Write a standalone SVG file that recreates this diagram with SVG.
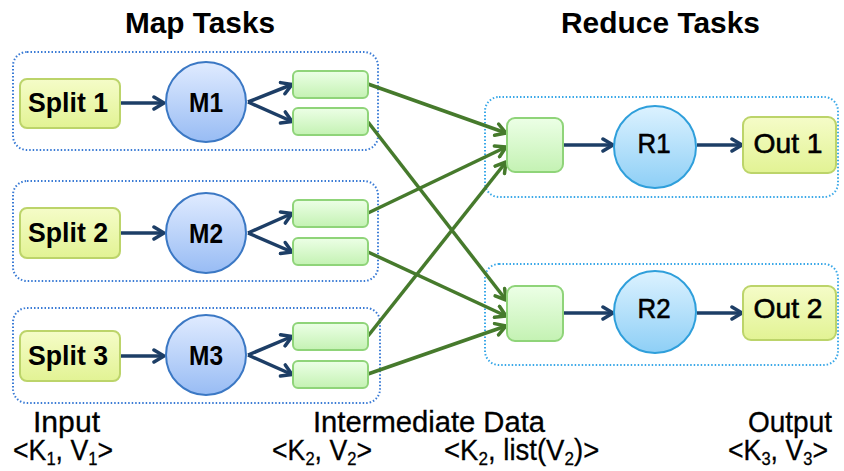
<svg xmlns="http://www.w3.org/2000/svg" width="844" height="471" viewBox="0 0 844 471">
<defs>
<linearGradient id="gSplit" x1="0" y1="0" x2="0" y2="1"><stop offset="0" stop-color="#f5fcc8"/><stop offset="1" stop-color="#e2f394"/></linearGradient>
<linearGradient id="gInter" x1="0" y1="0" x2="0" y2="1"><stop offset="0" stop-color="#ecffe6"/><stop offset="1" stop-color="#c4f2b3"/></linearGradient>
<linearGradient id="gM" x1="0" y1="0" x2="0" y2="1"><stop offset="0" stop-color="#e0ebff"/><stop offset="1" stop-color="#98bcf4"/></linearGradient>
<linearGradient id="gR" x1="0" y1="0" x2="0" y2="1"><stop offset="0" stop-color="#dcf2ff"/><stop offset="1" stop-color="#8ecff6"/></linearGradient>
<marker id="aBlue" viewBox="0 0 14 16" refX="12" refY="8" markerWidth="14" markerHeight="16" markerUnits="userSpaceOnUse" orient="auto">
<path d="M2,2 L12,8 L2,14" fill="none" stroke="#1d3e66" stroke-width="3.5" stroke-linecap="round" stroke-linejoin="round"/>
</marker>
<marker id="aGreen" viewBox="0 0 14 16" refX="12" refY="8" markerWidth="14" markerHeight="16" markerUnits="userSpaceOnUse" orient="auto">
<path d="M2,2 L12,8 L2,14" fill="none" stroke="#467a2c" stroke-width="3.5" stroke-linecap="round" stroke-linejoin="round"/>
</marker>
</defs>
<style>
.mapbox{fill:none;stroke:#3a7bd5;stroke-width:2;stroke-dasharray:1.5 2}
.redbox{fill:none;stroke:#3aa8e8;stroke-width:2;stroke-dasharray:1.5 2}
.split{fill:url(#gSplit);stroke:#bcd46a;stroke-width:2}
.inter{fill:url(#gInter);stroke:#8fd479;stroke-width:2}
.mc{fill:url(#gM);stroke:#3b78c4;stroke-width:2}
.rc{fill:url(#gR);stroke:#2f9fdb;stroke-width:2}
.blue{fill:none;stroke:#1d3e66;stroke-width:3.5;marker-end:url(#aBlue)}
.green{fill:none;stroke:#467a2c;stroke-width:3.5;marker-end:url(#aGreen)}
text{font-family:"Liberation Sans",Arial,sans-serif;fill:#000}
.title{font-size:29px;font-weight:bold}
.lbl{font-size:28px;font-weight:bold;text-anchor:middle}
.rl{font-size:28px;text-anchor:middle;stroke:#000;stroke-width:0.6}
.bot{font-size:29px;stroke:#000;stroke-width:0.3}
.sub{font-size:18px}
</style>

<g id="titles">
<text class="title" x="125" y="33" textLength="150" lengthAdjust="spacingAndGlyphs">Map Tasks</text>
<text class="title" x="561" y="33" textLength="199" lengthAdjust="spacingAndGlyphs">Reduce Tasks</text>
</g>

<g id="map-group-1"><rect class="mapbox" x="13" y="52" width="365" height="98" rx="14"/></g>
<g id="map-group-2"><rect class="mapbox" x="13" y="181" width="365" height="100" rx="14"/></g>
<g id="map-group-3"><rect class="mapbox" x="13" y="308" width="367" height="95" rx="14"/></g>
<g id="reduce-group-1"><rect class="redbox" x="485" y="97" width="353" height="100" rx="14"/></g>
<g id="reduce-group-2"><rect class="redbox" x="485" y="264" width="353" height="101" rx="14"/></g>

<g id="connectors">
<line class="blue" x1="121" y1="103" x2="164" y2="103"/>
<line class="blue" x1="121" y1="233" x2="164" y2="233"/>
<line class="blue" x1="121" y1="356" x2="164" y2="356"/>
<line class="blue" x1="248" y1="102" x2="292" y2="84.5"/>
<line class="blue" x1="248" y1="102" x2="292" y2="121.5"/>
<line class="blue" x1="248" y1="233" x2="292" y2="213.5"/>
<line class="blue" x1="248" y1="233" x2="292" y2="252"/>
<line class="blue" x1="248" y1="355" x2="292" y2="336.5"/>
<line class="blue" x1="248" y1="355" x2="292" y2="374.5"/>
<line class="green" x1="368" y1="84" x2="506" y2="133"/>
<line class="green" x1="368" y1="122" x2="506" y2="300"/>
<line class="green" x1="368" y1="213" x2="506" y2="147"/>
<line class="green" x1="368" y1="252" x2="506" y2="316"/>
<line class="green" x1="368" y1="336" x2="506" y2="162"/>
<line class="green" x1="368" y1="374" x2="506" y2="326"/>
<line class="blue" x1="563" y1="145" x2="613" y2="145"/>
<line class="blue" x1="697" y1="145" x2="742" y2="145"/>
<line class="blue" x1="563" y1="313" x2="613" y2="313"/>
<line class="blue" x1="697" y1="313" x2="742" y2="313"/>
</g>

<g id="split-1"><rect class="split" x="20" y="79" width="100" height="49" rx="7"/><text class="lbl" x="68" y="112" textLength="80" lengthAdjust="spacingAndGlyphs">Split 1</text></g>
<g id="split-2"><rect class="split" x="20" y="208" width="100" height="50" rx="7"/><text class="lbl" x="68" y="242" textLength="80" lengthAdjust="spacingAndGlyphs">Split 2</text></g>
<g id="split-3"><rect class="split" x="20" y="331" width="100" height="50" rx="7"/><text class="lbl" x="68" y="365" textLength="80" lengthAdjust="spacingAndGlyphs">Split 3</text></g>

<g id="m1"><circle class="mc" cx="206" cy="102" r="40"/><text class="lbl" x="206" y="112" textLength="34" lengthAdjust="spacingAndGlyphs">M1</text></g>
<g id="m2"><circle class="mc" cx="206" cy="233" r="40"/><text class="lbl" x="206" y="243" textLength="34" lengthAdjust="spacingAndGlyphs">M2</text></g>
<g id="m3"><circle class="mc" cx="206" cy="355" r="40"/><text class="lbl" x="206" y="365" textLength="34" lengthAdjust="spacingAndGlyphs">M3</text></g>

<g id="i1a"><rect class="inter" x="293" y="71" width="75" height="27" rx="5"/></g>
<g id="i1b"><rect class="inter" x="293" y="108" width="75" height="27" rx="5"/></g>
<g id="i2a"><rect class="inter" x="293" y="200" width="75" height="27" rx="5"/></g>
<g id="i2b"><rect class="inter" x="293" y="238" width="75" height="27" rx="5"/></g>
<g id="i3a"><rect class="inter" x="293" y="323" width="75" height="27" rx="5"/></g>
<g id="i3b"><rect class="inter" x="293" y="361" width="75" height="27" rx="5"/></g>

<g id="g1"><rect class="inter" x="507" y="118" width="56" height="54" rx="8"/></g>
<g id="g2"><rect class="inter" x="507" y="286" width="56" height="55" rx="8"/></g>

<g id="r1"><circle class="rc" cx="655" cy="147" r="41"/><text class="rl" x="654" y="153" textLength="33" lengthAdjust="spacingAndGlyphs">R1</text></g>
<g id="r2"><circle class="rc" cx="655" cy="312" r="41"/><text class="rl" x="654" y="318" textLength="33" lengthAdjust="spacingAndGlyphs">R2</text></g>

<g id="out-1"><rect class="split" x="743" y="117" width="93" height="56" rx="8"/><text class="rl" x="788" y="153" textLength="69" lengthAdjust="spacingAndGlyphs">Out 1</text></g>
<g id="out-2"><rect class="split" x="743" y="286" width="93" height="54" rx="8"/><text class="rl" x="788" y="318" textLength="69" lengthAdjust="spacingAndGlyphs">Out 2</text></g>

<g id="bottom-labels">
<text class="bot" x="33" y="432" textLength="67" lengthAdjust="spacingAndGlyphs">Input</text>
<text class="bot" transform="translate(13,460) scale(0.92,1)">&lt;K<tspan class="sub" dy="5">1</tspan><tspan dy="-5">, V</tspan><tspan class="sub" dy="5">1</tspan><tspan dy="-5">&gt;</tspan></text>
<text class="bot" x="313" y="432" textLength="232" lengthAdjust="spacingAndGlyphs">Intermediate Data</text>
<text class="bot" transform="translate(272,460) scale(0.92,1)">&lt;K<tspan class="sub" dy="5">2</tspan><tspan dy="-5">, V</tspan><tspan class="sub" dy="5">2</tspan><tspan dy="-5">&gt;</tspan></text>
<text class="bot" transform="translate(444,460) scale(0.95,1)">&lt;K<tspan class="sub" dy="5">2</tspan><tspan dy="-5">, list(V</tspan><tspan class="sub" dy="5">2</tspan><tspan dy="-5">)&gt;</tspan></text>
<text class="bot" x="748" y="432" textLength="84" lengthAdjust="spacingAndGlyphs">Output</text>
<text class="bot" transform="translate(728,460) scale(0.92,1)">&lt;K<tspan class="sub" dy="5">3</tspan><tspan dy="-5">, V</tspan><tspan class="sub" dy="5">3</tspan><tspan dy="-5">&gt;</tspan></text>
</g>
</svg>
